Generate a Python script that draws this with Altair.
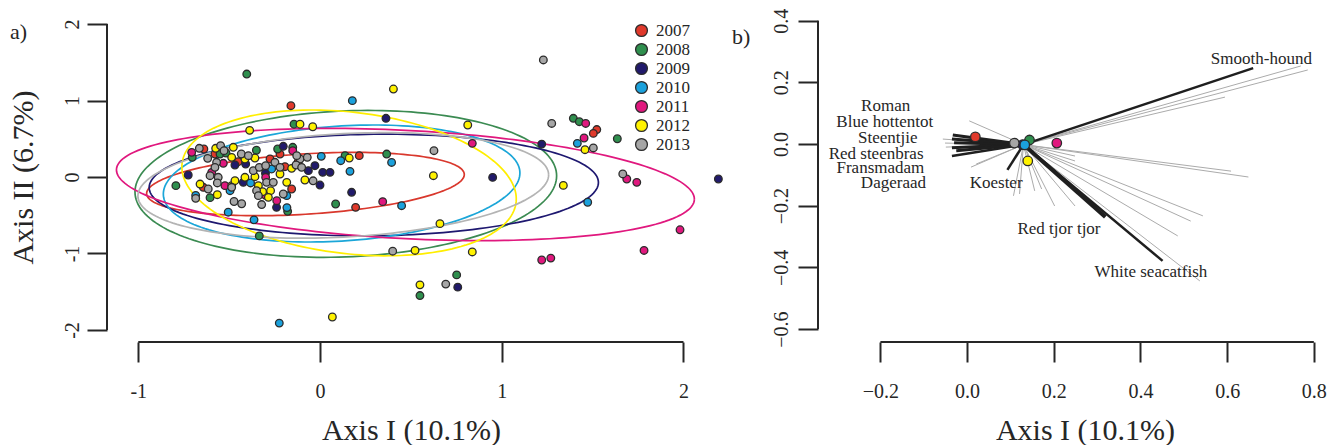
import altair as alt
import pandas as pd
import numpy as np

FONT = "Liberation Serif"
INK = "#262626"

years = ["2007", "2008", "2009", "2010", "2011", "2012", "2013"]
fill_colors = ["#E0392B", "#2F8F4E", "#211A6B", "#1BA1DC", "#E0187E", "#FFF200", "#A6A6A6"]
line_colors = ["#D9382D", "#3B8B52", "#1E1870", "#1BA6D8", "#E0187E", "#FFEE00", "#B4B4B4"]

# ---------------- panel a: sample scores ----------------
x2007 = [-0.160, 0.216, 0.196, -0.639, -0.275, -0.578, -0.193, -0.642, -0.156, 1.523, 1.504, -0.22, -0.12, -0.45]
y2007 = [0.932, 0.279, -0.397, 0.366, 0.235, 0.301, 0.135, -0.135, -0.157, 0.62, 0.57, 0.30, 0.20, 0.20]

x2008 = [-0.403, -0.143, 0.367, 0.138, 0.086, -0.793, -0.605, -0.334, -0.178, 0.55, 0.752, 1.394, 1.427, 1.636,
         -0.703, -0.233, -0.150, -0.550, -0.517, -0.35]
y2008 = [1.346, 0.69, 0.30, 0.279, -0.353, -0.113, -0.27, -0.77, -0.449, -1.55, -1.28, 0.767, 0.723, 0.50,
         0.257, 0.366, 0.388, 0.301, 0.314, 0.35]

x2009 = [0.363, 0.174, -0.202, -0.468, -0.409, -0.064, -0.028, 0.015, 0.055, -0.422, 0.0, -0.239, -0.725, 0.950,
         0.758, 1.22, 2.192, -0.30]
y2009 = [0.767, -0.2, 0.401, 0.157, 0.170, 0.083, 0.148, 0.061, 0.061, -0.070, -0.105, -0.397, 0.026, -0.005,
         -1.44, 0.43, -0.026, 0.05]

x2010 = [0.178, 0.394, 0.007, 0.114, 0.165, 0.449, -0.684, -0.505, -0.363, -0.182, -0.266, -0.382, -0.495, -0.183,
         -0.224, 1.473, 1.416]
y2010 = [0.998, 0.19, 0.27, 0.213, 0.074, -0.375, -0.24, -0.46, -0.56, -0.40, 0.105, -0.078, -0.179, -0.244,
         -1.91, -0.33, 0.44]

x2011 = [0.345, -0.238, 0.838, 1.22, 1.27, 1.462, 1.453, 1.688, 1.743, 1.981, 1.783, -0.706, -0.150, -0.532,
         -0.596, -0.523, -0.299, -0.30]
y2011 = [-0.322, -0.31, 0.44, -1.085, -1.06, 0.70, 0.51, -0.026, -0.07, -0.69, -0.96, 0.322, 0.344, 0.179,
         0.061, -0.113, -0.004, -0.24]

x2012 = [0.404, -0.110, -0.04, -0.387, 0.161, 0.813, 0.624, 1.339, 0.660, 0.838, 0.523, 0.55, 0.068, 1.458,
         -0.574, -0.477, -0.358, -0.486, -0.156, -0.660, -0.486, -0.468, -0.413, -0.358, -0.339, -0.220, -0.183,
         -0.083, -0.316, -0.272, -0.284, -0.565, -0.413]
y2012 = [1.150, 0.69, 0.657, 0.61, 0.248, 0.68, 0.017, -0.11, -0.61, -0.98, -0.96, -1.41, -1.83, 0.357,
         0.375, 0.388, 0.248, 0.257, 0.113, -0.092, -0.113, -0.048, -0.004, 0.004, -0.113, 0.039, -0.070,
         -0.039, -0.192, -0.179, -0.266, -0.231, 0.235]

x2013 = [1.229, 0.627, 1.275, 1.504, 1.666, 0.692, 0.40, -0.038, -0.684, -0.473, -0.431, -0.321, -0.664, -0.547,
         -0.528, -0.433, -0.110, -0.070, -0.248, -0.128, -0.618, -0.569, -0.578, -0.394, -0.367, -0.334, -0.299,
         -0.220, -0.132, -0.101, -0.605, -0.560, -0.615, -0.565, -0.294, -0.257, -0.486, -0.349, -0.339, -0.202]
y2013 = [1.53, 0.344, 0.70, 0.38, 0.04, -1.40, -0.97, -0.05, -0.279, -0.32, -0.35, -0.36, 0.375, 0.410,
         0.344, 0.301, 0.235, 0.257, 0.192, 0.279, 0.244, 0.192, 0.126, 0.279, 0.083, 0.126, 0.148,
         0.126, 0.157, 0.126, 0.017, -0.004, -0.157, -0.078, -0.070, -0.070, -0.135, -0.179, -0.244, -0.222]

# ellipse parameters per year: centre, half-width, half-height, correlation-like tilt
ell_cx = [-0.08, 0.142, 0.296, 0.119, 0.47, 0.16, 0.128]
ell_cy = [-0.092, -0.09, -0.105, -0.085, -0.098, -0.077, -0.11]
ell_w = [0.874, 1.16, 1.236, 0.981, 1.59, 0.92, 1.13]
ell_h = [0.414, 0.96, 0.665, 0.765, 0.734, 0.953, 0.69]
ell_r = [0.30, 0.11, 0.05, 0.18, -0.26, -0.22, 0.20]

A_XLIM = [-1.172, 2.256]
A_YLIM = [-2.157, 2.157]
A_XTICKS = [-1, 0, 1, 2]
A_YTICKS = [-2, -1, 0, 1, 2]

# ---------------- panel b: centroids and species vectors ----------------
cent_x = [0.019, 0.144, 0.128, 0.133, 0.207, 0.140, 0.109]
cent_y = [0.023, 0.013, -0.002, -0.003, 0.003, -0.055, 0.003]
vec_origin = (0.13, -0.002)

grey_end_x = [0.786, 0.770, 0.595, 0.609, 0.649, 0.249, 0.249, 0.544, 0.516, 0.486, 0.537, 0.249, 0.202,
              0.172, 0.156, 0.107, 0.121, 0.009, 0.021, 0.005, -0.056, -0.049, -0.051]
grey_end_y = [0.240, 0.253, 0.152, -0.088, -0.107, -0.039, -0.055, -0.233, -0.250, -0.298, -0.444, -0.201, -0.201,
              -0.146, -0.152, -0.168, -0.162, -0.075, -0.065, 0.075, 0.016, -0.010, 0.003]

black_names = ["Smooth-hound", "White seacatfish", "Red tjor tjor", "Koester", "Roman", "Blue hottentot",
               "Steentjie", "Red steenbras", "Fransmadam", "Dageraad"]
black_end_x = [0.660, 0.451, 0.319, 0.093, -0.033, -0.035, -0.030, -0.035, -0.025, -0.035]
black_end_y = [0.246, -0.379, -0.237, -0.084, 0.029, 0.016, 0.004, -0.012, -0.022, -0.039]
black_width = [2.5, 2.5, 4.0, 2.5, 3.0, 3.0, 3.0, 3.0, 3.0, 2.5]

label_x = [0.679, 0.424, 0.212, 0.067, -0.188, -0.190, -0.183, -0.210, -0.200, -0.170]
label_y = [0.259, -0.431, -0.292, -0.143, 0.107, 0.055, 0.003, -0.049, -0.094, -0.143]

B_XLIM = [-0.344, 0.835]
B_YLIM = [-0.642, 0.428]
B_XTICKS = [-0.2, 0.0, 0.2, 0.4, 0.6, 0.8]
B_YTICKS = [-0.6, -0.4, -0.2, 0.0, 0.2, 0.4]

# ---------------- tables ----------------
pts_x = [x2007, x2008, x2009, x2010, x2011, x2012, x2013]
pts_y = [y2007, y2008, y2009, y2010, y2011, y2012, y2013]
pts = pd.concat([pd.DataFrame({"x": xs, "y": ys, "year": yr}) for xs, ys, yr in zip(pts_x, pts_y, years)],
                ignore_index=True)

t = np.linspace(0, 2 * np.pi, 181)
ell_rows = []
for yr, col, cx, cy, w, h, r in zip(years, line_colors, ell_cx, ell_cy, ell_w, ell_h, ell_r):
    ex = cx + w * np.cos(t)
    ey = cy + h * (r * np.cos(t) - np.sqrt(1 - r * r) * np.sin(t))
    ell_rows.append(pd.DataFrame({"x": ex, "y": ey, "eyear": yr, "col": col, "i": np.arange(len(t))}))
ell = pd.concat(ell_rows, ignore_index=True)

a_xline = pd.DataFrame({"x": [A_XTICKS[0]], "xe": [A_XTICKS[-1]], "y": [A_YLIM[0]]})
a_yline = pd.DataFrame({"x": [A_XLIM[0]], "y": [A_YTICKS[0]], "ye": [A_YTICKS[-1]]})

# ---------------- panel a ----------------
xsA = alt.Scale(domain=A_XLIM, nice=False, zero=False)
ysA = alt.Scale(domain=A_YLIM, nice=False, zero=False)

axA_x = alt.Axis(values=A_XTICKS, grid=False, domain=False, tickSize=20, tickWidth=2, tickColor=INK,
                 labelFont=FONT, labelFontSize=20, labelColor=INK, labelPadding=35, labelBaseline="alphabetic",
                 labelExpr="replace(datum.label, '\u2212', '-')",
                 title="Axis I (10.1%)", titleFont=FONT, titleFontSize=30, titleFontWeight="normal",
                 titleColor=INK, titleX=304, titleY=97, titleAlign="center", titleBaseline="alphabetic")
axA_y = alt.Axis(values=A_YTICKS, grid=False, domain=False, tickSize=20, tickWidth=2, tickColor=INK,
                 labelFont=FONT, labelFontSize=20, labelColor=INK, labelPadding=9, labelAngle=-90,
                 labelAlign="center", labelBaseline="alphabetic",
                 labelExpr="replace(datum.label, '\u2212', '-')",
                 title="Axis II (6.7%)", titleFont=FONT, titleFontSize=30, titleFontWeight="normal",
                 titleColor=INK, titleX=-84, titleY=165, titleAngle=-90, titleAlign="center",
                 titleBaseline="middle")

XA = lambda f: alt.X(f, scale=xsA, axis=axA_x)
YA = lambda f: alt.Y(f, scale=ysA, axis=axA_y)

# ellipse colours come straight from the table (no scale, hence no competing legend)
ellipses = alt.Chart(ell).mark_line(strokeWidth=1.7).encode(
    x=XA("x:Q"), y=YA("y:Q"),
    stroke=alt.Stroke("col:N", scale=None),
    detail="eyear:N", order="i:Q")

points = alt.Chart(pts).mark_circle(size=58, opacity=1, stroke="#2b2b2b", strokeWidth=1.3).encode(
    x=XA("x:Q"), y=YA("y:Q"),
    fill=alt.Fill("year:N", scale=alt.Scale(domain=years, range=fill_colors),
                  legend=alt.Legend(orient="none", legendX=526, legendY=10, title=None, labelFont=FONT,
                                    labelFontSize=17, labelColor=INK, symbolSize=140, symbolType="circle",
                                    symbolStrokeColor="#2b2b2b", symbolStrokeWidth=1.3, symbolOpacity=1,
                                    rowPadding=0, padding=0, labelOffset=6)))

a_xaxis = alt.Chart(a_xline).mark_rule(strokeWidth=2, color=INK).encode(x=XA("x:Q"), x2="xe:Q", y=YA("y:Q"))
a_yaxis = alt.Chart(a_yline).mark_rule(strokeWidth=2, color=INK).encode(x=XA("x:Q"), y=YA("y:Q"), y2="ye:Q")
a_tag = alt.Chart(pd.DataFrame({"t": ["a)"]})).mark_text(font=FONT, fontSize=22, color=INK, align="left",
                                                          baseline="alphabetic").encode(
    text="t:N", x=alt.value(-97), y=alt.value(27))

panelA = alt.layer(ellipses, points, a_xaxis, a_yaxis, a_tag).properties(width=623, height=330)

# ---------------- panel b ----------------
xsB = alt.Scale(domain=B_XLIM, nice=False, zero=False)
ysB = alt.Scale(domain=B_YLIM, nice=False, zero=False)

axB_x = alt.Axis(values=B_XTICKS, format=".1f", grid=False, domain=False, tickSize=20, tickWidth=2,
                 tickColor=INK, labelFont=FONT, labelFontSize=20, labelColor=INK, labelPadding=35,
                 labelBaseline="alphabetic",
                 title="Axis I (10.1%)", titleFont=FONT, titleFontSize=30, titleFontWeight="normal",
                 titleColor=INK, titleX=267, titleY=97, titleAlign="center", titleBaseline="alphabetic")
axB_y = alt.Axis(values=B_YTICKS, format=".1f", grid=False, domain=False, tickSize=20, tickWidth=2,
                 tickColor=INK, labelFont=FONT, labelFontSize=20, labelColor=INK, labelPadding=11,
                 labelAngle=-90, labelAlign="center", labelBaseline="alphabetic", title=None)

XB = lambda f: alt.X(f, scale=xsB, axis=axB_x)
YB = lambda f: alt.Y(f, scale=ysB, axis=axB_y)

grey_df = pd.DataFrame({"x": vec_origin[0], "y": vec_origin[1], "xe": grey_end_x, "ye": grey_end_y})
black_df = pd.DataFrame({"x": vec_origin[0], "y": vec_origin[1], "xe": black_end_x, "ye": black_end_y,
                         "w": black_width, "name": black_names})
lab_df = pd.DataFrame({"x": label_x, "y": label_y, "name": black_names})
cent_df = pd.DataFrame({"x": cent_x, "y": cent_y, "cyear": years, "col": fill_colors})
b_xline = pd.DataFrame({"x": [B_XTICKS[0]], "xe": [B_XTICKS[-1]], "y": [B_YLIM[0]]})
b_yline = pd.DataFrame({"x": [B_XLIM[0]], "y": [B_YTICKS[0]], "ye": [B_YTICKS[-1]]})

grey = alt.Chart(grey_df).mark_rule(color="#ababab", strokeWidth=1).encode(
    x=XB("x:Q"), y=YB("y:Q"), x2="xe:Q", y2="ye:Q")
black = alt.Chart(black_df).mark_rule(color="#1f1f1f").encode(
    x=XB("x:Q"), y=YB("y:Q"), x2="xe:Q", y2="ye:Q",
    strokeWidth=alt.StrokeWidth("w:Q", scale=None))
cents = alt.Chart(cent_df).mark_circle(size=90, opacity=1, stroke="#2b2b2b", strokeWidth=1.3).encode(
    x=XB("x:Q"), y=YB("y:Q"),
    fill=alt.Fill("col:N", scale=None))
labels = alt.Chart(lab_df).mark_text(font=FONT, fontSize=17, color=INK, align="center",
                                     baseline="alphabetic").encode(x=XB("x:Q"), y=YB("y:Q"), text="name:N")
b_xaxis = alt.Chart(b_xline).mark_rule(strokeWidth=2, color=INK).encode(x=XB("x:Q"), x2="xe:Q", y=YB("y:Q"))
b_yaxis = alt.Chart(b_yline).mark_rule(strokeWidth=2, color=INK).encode(x=XB("x:Q"), y=YB("y:Q"), y2="ye:Q")
b_tag = alt.Chart(pd.DataFrame({"t": ["b)"]})).mark_text(font=FONT, fontSize=22, color=INK, align="left",
                                                          baseline="alphabetic").encode(
    text="t:N", x=alt.value(-86), y=alt.value(32))

panelB = alt.layer(grey, black, cents, labels, b_xaxis, b_yaxis, b_tag).properties(width=511, height=330)

chart = alt.hconcat(panelA, panelB, spacing=88, bounds="flush").resolve_scale(
    fill="independent"
).resolve_legend(fill="independent").properties(
    padding={"left": 8, "top": 8, "right": 5, "bottom": 0}, background="white"
).configure_view(strokeWidth=0)

chart.save("out.html", embed_options={"renderer": "svg", "actions": False})
